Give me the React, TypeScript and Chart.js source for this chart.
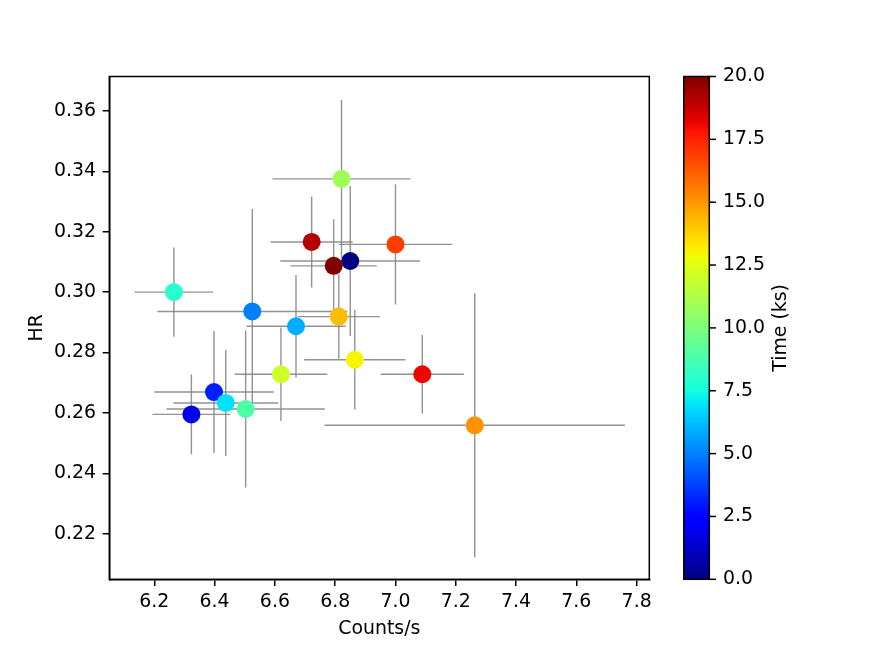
import React, { useEffect, useRef } from 'react';
import { Chart, registerables } from 'chart.js';

Chart.register(...registerables);

// ---- data ----
const timesKs = [0.0, 1.9, 3.1, 5.0, 5.9, 6.9, 8.0, 8.9, 10.9, 12.0, 13.0, 14.2, 15.1, 16.9, 18.1, 19.1, 20.0];
const countsRate = [6.850, 6.323, 6.398, 6.525, 6.670, 6.437, 6.265, 6.503, 6.821, 6.620, 6.865, 6.812, 7.263, 7.000, 7.089, 6.722, 6.795];
const countsErr = [0.232, 0.129, 0.198, 0.315, 0.1645, 0.174, 0.130, 0.263, 0.229, 0.154, 0.168, 0.136, 0.498, 0.188, 0.138, 0.136, 0.143];
const hardnessRatio = [0.3103, 0.2595, 0.2669, 0.2936, 0.2887, 0.2633, 0.3000, 0.2613, 0.3375, 0.2728, 0.2776, 0.2919, 0.2559, 0.3158, 0.2728, 0.3166, 0.3087];
const hardnessErr = [0.0248, 0.0132, 0.0202, 0.0339, 0.0170, 0.0176, 0.0148, 0.0260, 0.0261, 0.0155, 0.0165, 0.0140, 0.0437, 0.0199, 0.0130, 0.0151, 0.0154];

const xRange = [6.0507, 7.842];
const yRange = [0.2049, 0.3714];
const timeRange = [0, 20];
const xTickStep = 0.2;
const yTickStep = 0.02;
const timeTickStep = 2.5;

const xTitle = 'Counts/s';
const yTitle = 'HR';
const cbTitle = 'Time (ks)';

// ---- jet colormap ----
const JET_R = [[0, 0], [0.35, 0], [0.66, 1], [0.89, 1], [1, 0.5]];
const JET_G = [[0, 0], [0.125, 0], [0.375, 1], [0.64, 1], [0.91, 0], [1, 0]];
const JET_B = [[0, 0.5], [0.11, 1], [0.34, 1], [0.65, 0], [1, 0]];
function segInterp(pts: number[][], f: number) {
  for (let i = 1; i < pts.length; i++) {
    if (f <= pts[i][0]) {
      const [x0, y0] = pts[i - 1];
      const [x1, y1] = pts[i];
      return y0 + ((f - x0) / (x1 - x0)) * (y1 - y0);
    }
  }
  return pts[pts.length - 1][1];
}
function jet(f: number) {
  const c = Math.max(0, Math.min(1, f));
  const r = Math.round(255 * segInterp(JET_R, c));
  const g = Math.round(255 * segInterp(JET_G, c));
  const b = Math.round(255 * segInterp(JET_B, c));
  return `rgb(${r},${g},${b})`;
}

const FONT = 'DejaVu Sans';
const FS = 18.9;
const TICK_LEN = 6.6;
const LW = 1.5;

const errorBarPlugin = {
  id: 'errorBars',
  beforeDatasetsDraw(chart: any) {
    const { ctx } = chart;
    const x = chart.scales.x;
    const y = chart.scales.y;
    ctx.save();
    ctx.beginPath();
    ctx.rect(chart.chartArea.left, chart.chartArea.top, chart.chartArea.right - chart.chartArea.left, chart.chartArea.bottom - chart.chartArea.top);
    ctx.clip();
    ctx.strokeStyle = 'rgba(128,128,128,0.85)';
    ctx.lineWidth = 1.4;
    for (let i = 0; i < countsRate.length; i++) {
      const px = x.getPixelForValue(countsRate[i]);
      const py = y.getPixelForValue(hardnessRatio[i]);
      ctx.beginPath();
      ctx.moveTo(x.getPixelForValue(countsRate[i] - countsErr[i]), py);
      ctx.lineTo(x.getPixelForValue(countsRate[i] + countsErr[i]), py);
      ctx.moveTo(px, y.getPixelForValue(hardnessRatio[i] + hardnessErr[i]));
      ctx.lineTo(px, y.getPixelForValue(hardnessRatio[i] - hardnessErr[i]));
      ctx.stroke();
    }
    ctx.restore();
  },
};

const framePlugin = {
  id: 'frameAndColorbar',
  afterDraw(chart: any) {
    const { ctx, chartArea } = chart;
    ctx.save();
    ctx.strokeStyle = '#000';
    ctx.lineWidth = LW;
    ctx.strokeRect(chartArea.left, chartArea.top, chartArea.right - chartArea.left, chartArea.bottom - chartArea.top);

    // colorbar using y2 scale
    const s = chart.scales.y2;
    const top = s.getPixelForValue(timeRange[1]);
    const bottom = s.getPixelForValue(timeRange[0]);
    const left = chartArea.right + 34.5;
    const width = 25.5;
    const right = left + width;
    const grad = ctx.createLinearGradient(0, bottom, 0, top);
    const N = 64;
    for (let i = 0; i <= N; i++) grad.addColorStop(i / N, jet(i / N));
    ctx.fillStyle = grad;
    ctx.fillRect(left, top, width, bottom - top);
    ctx.strokeStyle = '#000';
    ctx.lineWidth = LW;
    ctx.strokeRect(left, top, width, bottom - top);

    ctx.font = `${FS}px "${FONT}"`;
    ctx.fillStyle = '#000';
    ctx.textAlign = 'left';
    ctx.textBaseline = 'middle';
    ctx.lineWidth = LW;
    for (const t of s.ticks) {
      const py = s.getPixelForValue(t.value);
      ctx.beginPath();
      ctx.moveTo(right, py);
      ctx.lineTo(right + TICK_LEN, py);
      ctx.stroke();
      ctx.fillText(Number(t.value).toFixed(1), right + 2 * TICK_LEN + 0.5, py);
    }
    // colorbar title
    ctx.save();
    ctx.translate(781, (top + bottom) / 2);
    ctx.rotate(-Math.PI / 2);
    ctx.textAlign = 'center';
    ctx.textBaseline = 'middle';
    ctx.fillText(cbTitle, 0, 0);
    ctx.restore();
    ctx.restore();
  },
};

export default function App() {
  const canvasRef = useRef<HTMLCanvasElement | null>(null);

  useEffect(() => {
    if (!canvasRef.current) return;
    const points = countsRate.map((c, i) => ({ x: c, y: hardnessRatio[i] }));
    const colors = timesKs.map((t) => jet((t - timeRange[0]) / (timeRange[1] - timeRange[0])));
    const tickFont = { family: FONT, size: FS };
    const chart = new Chart(canvasRef.current, {
      type: 'scatter',
      data: {
        datasets: [
          {
            data: points,
            backgroundColor: colors,
            borderWidth: 0,
            pointRadius: 9,
            pointHoverRadius: 9,
          },
        ],
      },
      options: {
        animation: false,
        responsive: false,
        events: [],
        layout: { padding: { top: 76.5, left: 0, right: 0, bottom: 0 } },
        plugins: { legend: { display: false }, tooltip: { enabled: false } },
        scales: {
          x: {
            type: 'linear',
            position: 'bottom',
            min: xRange[0],
            max: xRange[1],
            ticks: {
              stepSize: xTickStep,
              includeBounds: false,
              font: tickFont,
              color: '#000',
              padding: 5,
              maxRotation: 0,
              autoSkip: false,
              callback: (v: any) => Number(v).toFixed(1),
            },
            grid: { display: true, drawOnChartArea: false, drawTicks: true, tickLength: TICK_LEN, color: '#000', lineWidth: LW },
            border: { display: true, color: '#000', width: LW },
            title: { display: true, text: xTitle, font: tickFont, color: '#000', padding: { top: 0, bottom: 12.6 } },
            afterFit: (scale: any) => { scale.height = 73.7; },
          },
          y: {
            type: 'linear',
            position: 'left',
            min: yRange[0],
            max: yRange[1],
            ticks: {
              stepSize: yTickStep,
              includeBounds: false,
              font: tickFont,
              color: '#000',
              padding: 6.7,
              autoSkip: false,
              callback: (v: any) => Number(v).toFixed(2),
            },
            grid: { display: true, drawOnChartArea: false, drawTicks: true, tickLength: TICK_LEN, color: '#000', lineWidth: LW },
            border: { display: true, color: '#000', width: LW },
            title: { display: true, text: yTitle, font: tickFont, color: '#000', padding: { top: 25.7, bottom: 0 } },
            afterFit: (scale: any) => { scale.width = 109.3; },
          },
          y2: {
            type: 'linear',
            position: 'right',
            min: timeRange[0],
            max: timeRange[1],
            ticks: { stepSize: timeTickStep, display: false },
            grid: { display: false },
            border: { display: false },
            afterFit: (scale: any) => { scale.width = 872 - 649.3; },
          },
        },
      },
      plugins: [errorBarPlugin, framePlugin],
    } as any);
    return () => chart.destroy();
  }, []);

  return (
    <div style={{ position: 'fixed', left: 0, top: 0, width: 872, height: 653, background: '#fff' }}>
      <canvas ref={canvasRef} width={872} height={653} style={{ display: 'block', width: 872, height: 653 }} />
    </div>
  );
}
